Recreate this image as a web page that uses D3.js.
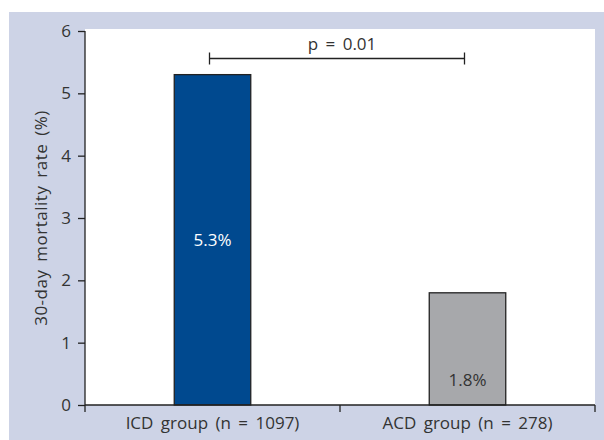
<!DOCTYPE html>
<html>
<head>
<meta charset="utf-8">
<script src="https://cdn.jsdelivr.net/npm/d3@7"></script>
<style>
  html, body { margin: 0; padding: 0; background: #ffffff; }
  svg { display: block; }
  text { font-family: "Open Sans", "DejaVu Sans", sans-serif; fill: #333333; font-size: 17px; word-spacing: 3px; }
</style>
</head>
<body>
<svg id="chart" width="604" height="440"></svg>
<script>
const categories = ["ICD group (n = 1097)", "ACD group (n = 278)"];
const values = [5.3, 1.8];
const valueLabels = ["5.3%", "1.8%"];
const yTicks = [0, 1, 2, 3, 4, 5, 6];
const pLabel = "p = 0.01";
const yTitle = "30-day mortality rate (%)";

const W = 604, H = 440;
const plot = { left: 85, right: 595, top: 31, bottom: 405 };

const svg = d3.select("#chart");

// background frame
svg.append("rect").attr("x", 9).attr("y", 12).attr("width", W - 9).attr("height", H - 12)
  .attr("fill", "#cdd3e6");
svg.append("rect").attr("x", plot.left).attr("y", 29)
  .attr("width", plot.right - plot.left).attr("height", plot.bottom - 29)
  .attr("fill", "#ffffff");

const x = d3.scaleBand().domain(categories).range([plot.left, plot.right]).padding(0);
const y = d3.scaleLinear().domain([0, 6]).range([plot.bottom, plot.top]);
const barW = x.bandwidth() * 0.3;
const colors = ["#00498f", "#a7a8ab"];
const labelColors = ["#ffffff", "#333333"];

// bars
svg.selectAll("rect.bar").data(values).enter().append("rect")
  .attr("class", "bar")
  .attr("x", (d, i) => x(categories[i]) + x.bandwidth() / 2 - barW / 2)
  .attr("y", d => y(d))
  .attr("width", barW)
  .attr("height", d => y(0) - y(d))
  .attr("fill", (d, i) => colors[i])
  .attr("stroke", "#222222")
  .attr("stroke-width", 1.3);

// value labels
svg.selectAll("text.vl").data(values).enter().append("text")
  .attr("class", "vl")
  .attr("x", (d, i) => x(categories[i]) + x.bandwidth() / 2)
  .attr("y", (d, i) => i === 0 ? y(d / 2) + 6 : y(0.4) + 6)
  .attr("text-anchor", "middle")
  .style("fill", (d, i) => labelColors[i])
  .text((d, i) => valueLabels[i]);

// y axis
const yAxis = d3.axisLeft(y).tickValues(yTicks).tickSize(7).tickPadding(7).tickFormat(d3.format("d"));
const gy = svg.append("g").attr("transform", `translate(${plot.left},0)`).call(yAxis);
gy.attr("font-family", null).attr("font-size", null);
gy.select(".domain").attr("d", `M0,${y(6)}V${y(0)}`).attr("stroke", "#222").attr("stroke-width", 1.3);
gy.selectAll(".tick line").attr("stroke", "#222").attr("stroke-width", 1.3);
gy.selectAll(".tick text").attr("fill", "#333");

// x axis
const gx = svg.append("g").attr("transform", `translate(0,${plot.bottom})`);
gx.append("line").attr("x1", plot.left).attr("x2", plot.right).attr("y1", 0).attr("y2", 0)
  .attr("stroke", "#222").attr("stroke-width", 1.3);
const boundaries = [x(categories[0]), x(categories[1]), x(categories[1]) + x.bandwidth()];
gx.selectAll("line.xt").data(boundaries).enter().append("line")
  .attr("class", "xt")
  .attr("x1", d => d).attr("x2", d => d).attr("y1", 0).attr("y2", 7)
  .attr("stroke", "#222").attr("stroke-width", 1.3);
gx.selectAll("text.xl").data(categories).enter().append("text")
  .attr("class", "xl")
  .attr("x", d => x(d) + x.bandwidth() / 2)
  .attr("y", 24)
  .attr("text-anchor", "middle")
  .text(d => d);

// y title
svg.append("text")
  .attr("transform", `translate(47,${(plot.top + plot.bottom) / 2}) rotate(-90)`)
  .attr("text-anchor", "middle")
  .style("letter-spacing", "0.5px")
  .text(yTitle);

// significance bracket
const bx1 = x(categories[0]) + x.bandwidth() / 2 - 3;
const bx2 = x(categories[1]) + x.bandwidth() / 2 - 3;
const by = 58.5;
const br = svg.append("g").attr("stroke", "#222").attr("stroke-width", 1.3);
br.append("line").attr("x1", bx1).attr("x2", bx2).attr("y1", by).attr("y2", by);
br.append("line").attr("x1", bx1).attr("x2", bx1).attr("y1", by - 6).attr("y2", by + 6);
br.append("line").attr("x1", bx2).attr("x2", bx2).attr("y1", by - 6).attr("y2", by + 6);
svg.append("text")
  .attr("x", (bx1 + bx2) / 2 + 5)
  .attr("y", 50)
  .attr("text-anchor", "middle")
  .text(pLabel);
</script>
</body>
</html>
